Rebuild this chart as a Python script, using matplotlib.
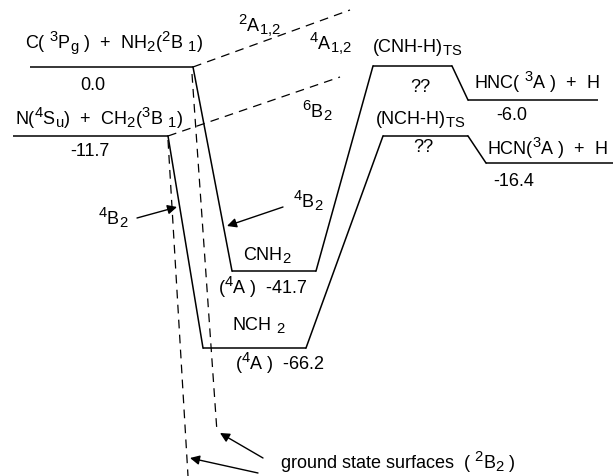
import matplotlib
matplotlib.use("Agg")
import matplotlib.pyplot as plt
import matplotlib._mathtext as mathtext_internal

# bigger sub/superscripts, like the scanned original
mathtext_internal.SHRINK_FACTOR = 0.82

plt.rcParams["font.family"] = ["Liberation Sans", "DejaVu Sans"]
plt.rcParams["mathtext.fontset"] = "custom"
plt.rcParams["mathtext.rm"] = "Liberation Sans"
plt.rcParams["mathtext.it"] = "Liberation Sans"

# ---------------- DATA ----------------
# diagram is schematic (not to scale): level positions in diagram units
level_names = ["C+NH2", "N+CH2", "CNH2", "NCH2", "CNH-H TS", "NCH-H TS", "HNC+H", "HCN+H"]
level_x0 = [30, 13, 232, 203, 373, 383, 468, 486]
level_x1 = [193, 168, 316, 306, 452, 468, 598, 613]
level_y = [67, 136, 271, 348, 66, 136, 100, 163]

# solid paths: right end of first level -> left end of second
links = [("C+NH2", "CNH2"), ("N+CH2", "NCH2"), ("CNH2", "CNH-H TS"),
         ("NCH2", "NCH-H TS"), ("CNH-H TS", "HNC+H"), ("NCH-H TS", "HCN+H")]

# dashed surfaces
dashed = [((193, 67), (350, 10)), ((168, 136), (340, 77)),
          ((192, 74), (217, 432)), ((168, 140), (188, 476))]

# arrows (tail -> head)
arrows = [((137, 218), (177, 207)), ((283, 207), (227, 226)),
          ((263, 458), (220, 433)), ((258, 473), (190, 458))]

def sup(s):
    return r"$\mathregular{^{%s}}$" % s

def sub(s):
    return r"$\mathregular{_{%s}}$" % s

labels = [
    (114, 43, "C( " + sup("3") + "P" + sub("g") + " )  +  NH" + sub("2") + "(" + sup("2") + "B " + sub("1") + ")", "center"),
    (93, 86, "0.0", "center"),
    (99, 118, "N(" + sup("4") + "S" + sub("u") + ")  +  CH" + sub("2") + "(" + sup("3") + "B " + sub("1") + ")", "center"),
    (90, 152, "-11.7", "center"),
    (259, 26, sup("2") + "A" + sub("1{,}2"), "center"),
    (330, 44, sup("4") + "A" + sub("1{,}2"), "center"),
    (317, 111, sup("6") + "B" + sub("2"), "center"),
    (417, 47, "(CNH-H)" + sub("TS"), "center"),
    (420, 87, "??", "center"),
    (537, 82, "HNC( " + sup("3") + "A )  +  H", "center"),
    (512, 115, "-6.0", "center"),
    (420, 120, "(NCH-H)" + sub("TS"), "center"),
    (423, 148, "??", "center"),
    (547, 148, "HCN(" + sup("3") + "A )  +  H", "center"),
    (514, 182, "-16.4", "center"),
    (113, 218, sup("4") + "B" + sub("2"), "center"),
    (308, 201, sup("4") + "B" + sub("2"), "center"),
    (267, 255, "CNH" + sub("2"), "center"),
    (263, 287, "(" + sup("4") + "A )  -41.7", "center"),
    (259, 325, "NCH " + sub("2"), "center"),
    (280, 363, "(" + sup("4") + "A )  -66.2", "center"),
    (280, 462, "ground state surfaces  ( " + sup("2") + "B" + sub("2") + " )", "left"),
]

# ---------------- PLOT ----------------
fig = plt.figure(figsize=(6.13, 4.76), dpi=100)
ax = fig.add_axes([0, 0, 1, 1])
ax.set_xlim(0, 613)
ax.set_ylim(476, 0)
ax.axis("off")

lw = 1.1
for x0, x1, y in zip(level_x0, level_x1, level_y):
    ax.plot([x0, x1], [y, y], color="k", lw=lw, solid_capstyle="butt")

idx = {n: i for i, n in enumerate(level_names)}
for a, b in links:
    i, j = idx[a], idx[b]
    ax.plot([level_x1[i], level_x0[j]], [level_y[i], level_y[j]], color="k", lw=lw)

for p, q in dashed:
    ax.plot([p[0], q[0]], [p[1], q[1]], color="k", lw=0.9, dashes=(7, 5))

for tail, head in arrows:
    ax.annotate("", xy=head, xytext=tail,
                arrowprops=dict(arrowstyle="-|>", color="k", lw=1.0,
                                mutation_scale=14, shrinkA=0, shrinkB=0))

for x, y, s, ha in labels:
    ax.text(x, y, s, ha=ha, va="center", fontsize=13)

fig.savefig("out.png", dpi=100)
